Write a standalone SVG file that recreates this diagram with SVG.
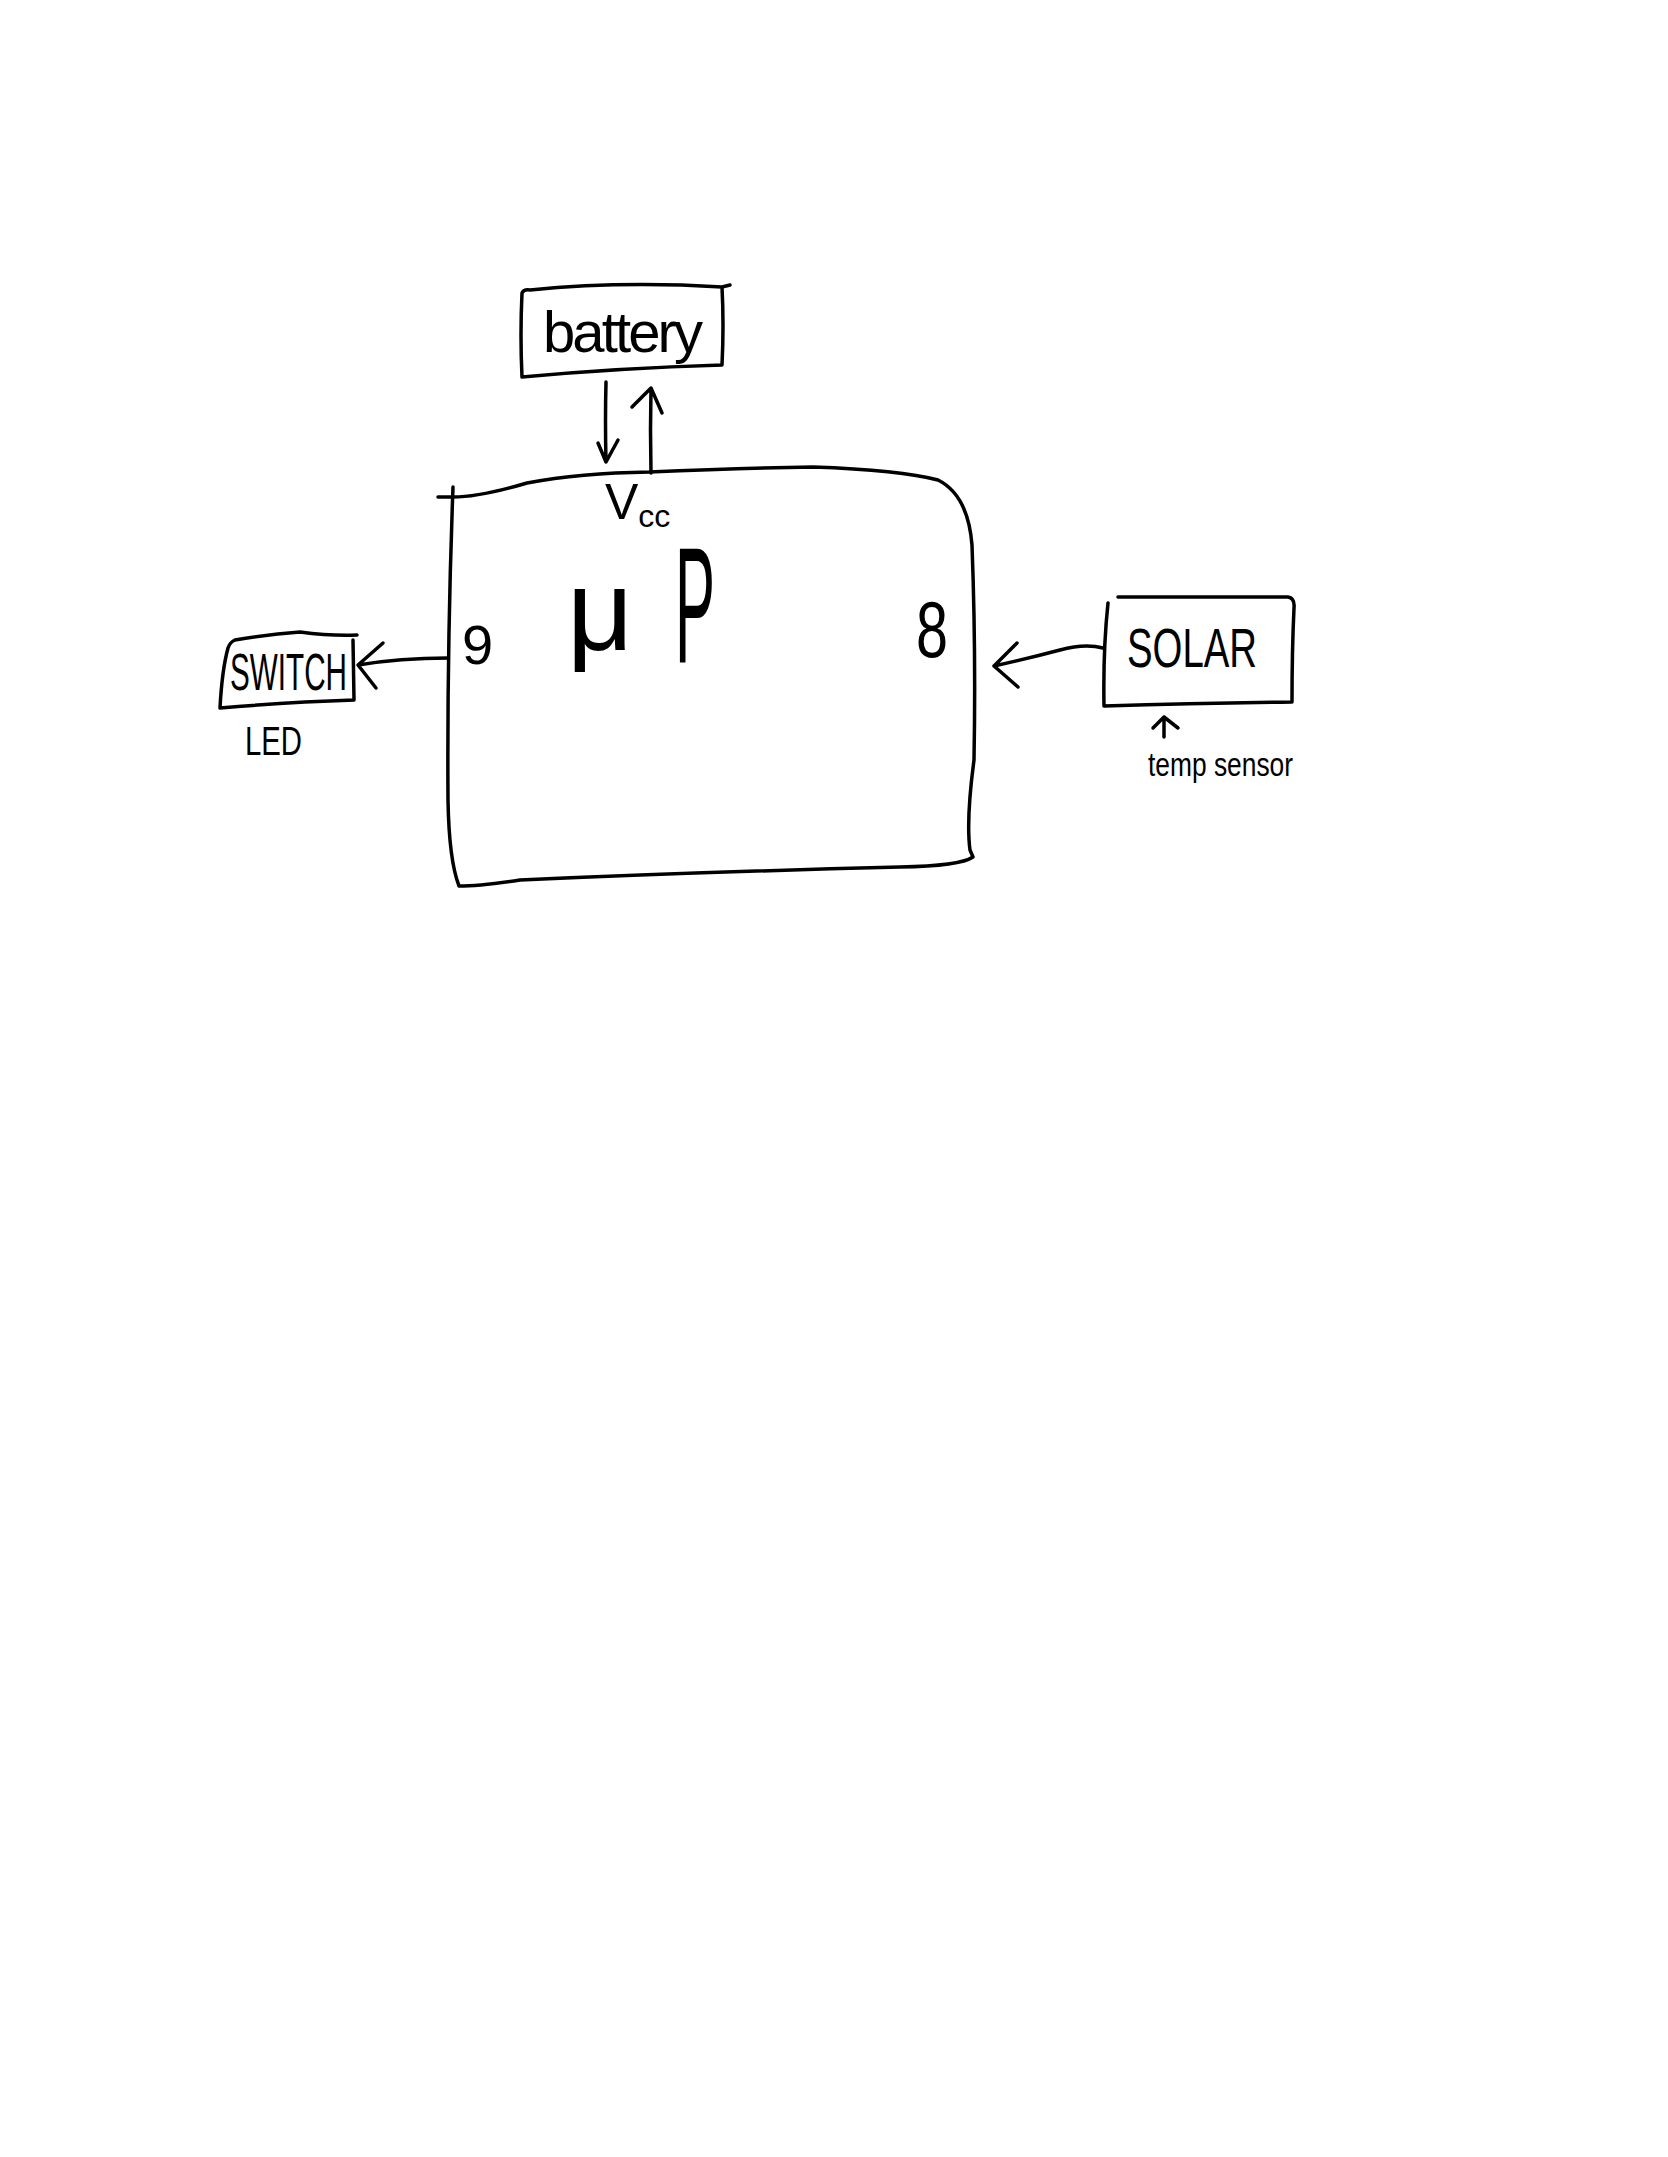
<svg xmlns="http://www.w3.org/2000/svg" width="1668" height="2157" viewBox="0 0 1668 2157">
<style>
.ln{fill:none;stroke:#000;stroke-width:3.5;stroke-linecap:round;stroke-linejoin:round}
.t{font-family:"Liberation Sans","DejaVu Sans",sans-serif;fill:#000}
</style>
<rect width="1668" height="2157" fill="#fff"/>
<g id="battery">
<path class="ln" d="M522,293 Q524,289 530,290 Q620,281 722,287 L730,285 M722,287 Q724,325 722,365 Q620,368 522,377 Q520,335 522,293"/>
<text class="t" x="543" y="352" font-size="58" textLength="160" lengthAdjust="spacing">battery</text>
</g>
<g id="mcu">
<path class="ln" d="M438,497 L453,497 Q480,497 527,483 Q580,473 649,472 Q740,468 813,467 Q900,470 938,480 Q968,495 972,545 Q976,650 974,760 Q966,820 970,850 L973,857 Q960,866 900,867 Q700,872 520,880 Q480,886 459,886 Q449,860 448,800 Q447,650 453,487"/>
<text class="t" x="605" y="519" font-size="50">V<tspan font-size="32" dy="8">cc</tspan></text>
<text class="t" x="462" y="664" font-size="56">9</text>
<text class="t" x="567" y="650" font-size="115">μ</text>
<text class="t" x="675" y="662" font-size="165" textLength="40" lengthAdjust="spacingAndGlyphs">P</text>
<text class="t" x="916" y="657" font-size="80" textLength="32" lengthAdjust="spacingAndGlyphs">8</text>
</g>
<g id="switch">
<path class="ln" d="M235,640 Q270,634 300,632 Q330,636 357,635 M353,640 L354,700 Q290,702 220,708 Q222,670 228,648 Q230,642 235,640"/>
<text class="t" x="230" y="690" font-size="52" textLength="117" lengthAdjust="spacingAndGlyphs">SWITCH</text>
<text class="t" x="245" y="755" font-size="40" textLength="57" lengthAdjust="spacingAndGlyphs">LED</text>
</g>
<g id="solar">
<path class="ln" d="M1118,597 L1288,597 Q1295,598 1294,608 Q1292,650 1292,702 Q1200,703 1104,706 Q1103,650 1108,603"/>
<text class="t" x="1127" y="667" font-size="55" textLength="130" lengthAdjust="spacingAndGlyphs">SOLAR</text>
<text class="t" x="1148" y="776" font-size="33" textLength="145" lengthAdjust="spacingAndGlyphs">temp sensor</text>
</g>
<g id="connectors">
<path class="ln" d="M606,382 Q605,420 606,462 M598,443 L606,462 L618,440"/>
<path class="ln" d="M651,473 Q650,430 651,388 M632,407 L651,388 L662,413"/>
<path class="ln" d="M448,658 Q400,658 358,665 M383,643 L358,665 L376,688"/>
<path class="ln" d="M1103,648 Q1085,643 1060,650 Q1030,658 994,666 M1017,643 L994,666 L1018,687"/>
<path class="ln" d="M1164,737 L1164,717 M1153,728 L1164,717 L1178,728"/>
</g>
</svg>
